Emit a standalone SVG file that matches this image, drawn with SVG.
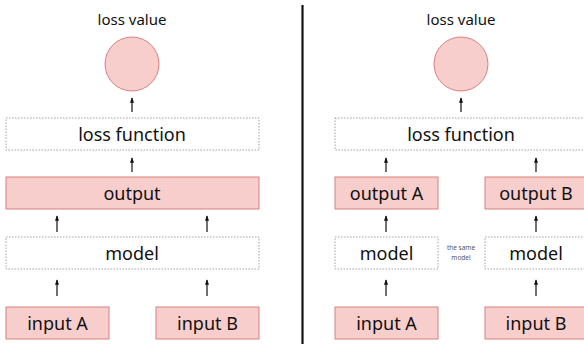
<svg xmlns="http://www.w3.org/2000/svg" width="584" height="344" viewBox="0 0 584 344">
<defs>
<style>
.pink{fill:#f8cecc;stroke:#d6807c;stroke-width:1}
.dash{fill:#ffffff;stroke:#8a8a8a;stroke-width:0.8;stroke-dasharray:1.5 1.5}
.t{font-family:"Noto Sans","DejaVu Sans",sans-serif;fill:#111;text-anchor:middle}
.big{font-size:18px}
.sm{font-size:15px}
.tiny{font-size:6.5px;fill:#555555}
.arr{stroke:#111;stroke-width:1.2;fill:none;marker-end:url(#ah)}
</style>
<marker id="ah" viewBox="0 0 8 6" refX="7" refY="3" markerWidth="5.5" markerHeight="4" markerUnits="userSpaceOnUse" orient="auto">
<path d="M0,0 L8,3 L0,6 Z" fill="#111"/>
</marker>
</defs>
<rect width="584" height="344" fill="#ffffff"/>
<line x1="302.5" y1="5" x2="302.5" y2="344" stroke="#111" stroke-width="2.2"/>
<g id="left-loss-value">
<text class="t sm" x="132" y="25">loss value</text>
<circle class="pink" cx="132" cy="64" r="27"/>
</g>
<g id="left-loss-function"><rect class="dash" x="6" y="118" width="253" height="32"/><text class="t big" x="132" y="141">loss function</text></g>
<g id="left-output"><rect class="pink" x="6" y="177" width="253" height="32"/><text class="t big" x="132" y="200">output</text></g>
<g id="left-model"><rect class="dash" x="6" y="237" width="253" height="32"/><text class="t big" x="132" y="260">model</text></g>
<g id="left-input-a"><rect class="pink" x="6" y="307" width="103" height="32"/><text class="t big" x="57.5" y="330">input A</text></g>
<g id="left-input-b"><rect class="pink" x="156" y="307" width="103" height="32"/><text class="t big" x="207.5" y="330">input B</text></g>
<g id="right-loss-value">
<text class="t sm" x="461" y="25">loss value</text>
<circle class="pink" cx="461" cy="64" r="27"/>
</g>
<g id="right-loss-function"><rect class="dash" x="335" y="118" width="252" height="32"/><text class="t big" x="461" y="141">loss function</text></g>
<g id="right-output-a"><rect class="pink" x="335" y="177" width="103" height="32"/><text class="t big" x="386.5" y="200">output A</text></g>
<g id="right-output-b"><rect class="pink" x="485" y="177" width="103" height="32"/><text class="t big" x="536" y="200">output B</text></g>
<g id="right-model-a"><rect class="dash" x="335" y="237" width="103" height="32"/><text class="t big" x="386.5" y="260">model</text></g>
<g id="right-model-b"><rect class="dash" x="485" y="237" width="103" height="32"/><text class="t big" x="536" y="260">model</text></g>
<g id="same-model-note"><text class="t tiny" x="461" y="250">the same</text><text class="t tiny" x="461" y="260">model</text></g>
<g id="right-input-a"><rect class="pink" x="335" y="307" width="103" height="32"/><text class="t big" x="386.5" y="330">input A</text></g>
<g id="right-input-b"><rect class="pink" x="485" y="307" width="103" height="32"/><text class="t big" x="536" y="330">input B</text></g>
<g id="connectors">
<line class="arr" x1="132" y1="112" x2="132" y2="98"/>
<line class="arr" x1="132" y1="172" x2="132" y2="158"/>
<line class="arr" x1="57" y1="232" x2="57" y2="216"/>
<line class="arr" x1="207" y1="232" x2="207" y2="216"/>
<line class="arr" x1="57" y1="296" x2="57" y2="280"/>
<line class="arr" x1="207" y1="296" x2="207" y2="280"/>
<line class="arr" x1="461" y1="112" x2="461" y2="98"/>
<line class="arr" x1="386" y1="172" x2="386" y2="158"/>
<line class="arr" x1="536" y1="172" x2="536" y2="158"/>
<line class="arr" x1="386" y1="232" x2="386" y2="216"/>
<line class="arr" x1="536" y1="232" x2="536" y2="216"/>
<line class="arr" x1="386" y1="296" x2="386" y2="280"/>
<line class="arr" x1="536" y1="296" x2="536" y2="280"/>
</g>
</svg>
